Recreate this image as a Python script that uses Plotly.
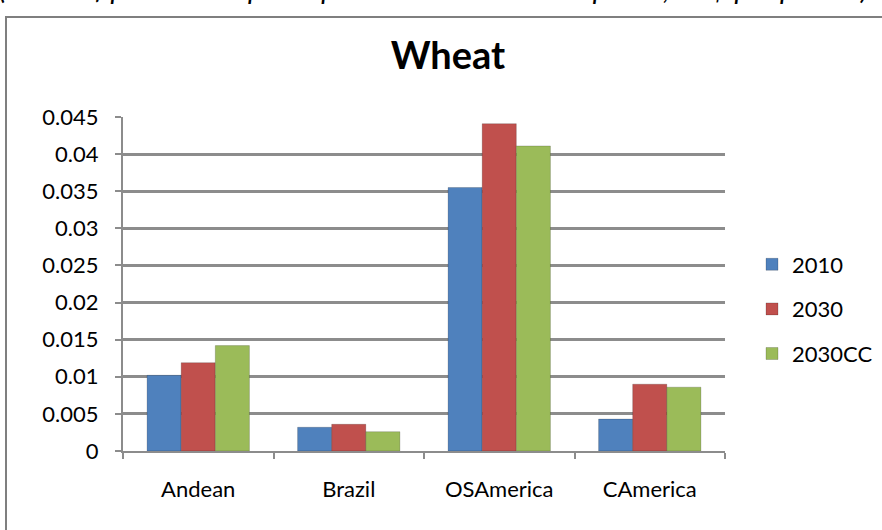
import plotly.graph_objects as go

# Wheat: value of production per capita by region
regions = ["Andean", "Brazil", "OSAmerica", "CAmerica"]
series_names = ["2010", "2030", "2030CC"]
values_2010 = [0.0102, 0.0032, 0.0355, 0.0043]
values_2030 = [0.0119, 0.0036, 0.0441, 0.0090]
values_2030cc = [0.0142, 0.0026, 0.0411, 0.0086]
y_ticks = [0, 0.005, 0.01, 0.015, 0.02, 0.025, 0.03, 0.035, 0.04, 0.045]
y_tick_labels = ["0", "0.005", "0.01", "0.015", "0.02", "0.025", "0.03", "0.035", "0.04", "0.045"]

colors = ["#4F81BD", "#C0504D", "#9BBB59"]
FONT = "Lato, 'Open Sans', sans-serif"

# plot area in pixels
L, R, T, B = 123, 725, 117, 451
W, H = R - L, B - T

fig = go.Figure()
for name, vals, col in zip(series_names, [values_2010, values_2030, values_2030cc], colors):
    fig.add_trace(go.Bar(
        x=regions, y=vals, name=name, legendgroup=name,
        marker=dict(color=col, line=dict(color="rgba(0,0,0,0.18)", width=1)),
    ))

fig.update_layout(
    width=882, height=530,
    margin=dict(l=L, r=882 - R, t=T, b=530 - B),
    paper_bgcolor="white", plot_bgcolor="white",
    barmode="group", bargap=0.32, bargroupgap=0,
    font=dict(family=FONT, size=22, color="black"),
    title=dict(text="<b>Wheat</b>", x=448 / 882, xref="container", xanchor="center",
               y=1 - 56 / 530, yref="container", yanchor="middle",
               font=dict(family=FONT, size=38, color="black")),
    legend=dict(x=752 / 882, xref="container", xanchor="left",
                y=1 - 309 / 530, yref="container", yanchor="middle",
                font=dict(family=FONT, size=22), itemwidth=30,
                traceorder="grouped", tracegroupgap=13,
                bgcolor="rgba(0,0,0,0)"),
    showlegend=True,
)

fig.update_xaxes(
    showline=True, linecolor="#8c8c8c", linewidth=2,
    ticks="outside", tickson="boundaries", ticklen=6, tickcolor="#8c8c8c", tickwidth=2,
    showgrid=False, tickfont=dict(family=FONT, size=22), ticklabelstandoff=18,
)
fig.update_yaxes(
    range=[0, 0.045], tickvals=y_ticks, ticktext=y_tick_labels,
    showline=True, linecolor="#8c8c8c", linewidth=2,
    ticks="outside", ticklen=6, tickcolor="#8c8c8c", tickwidth=2,
    showgrid=True, gridcolor="#8c8c8c", gridwidth=3,
    zeroline=False, tickfont=dict(family=FONT, size=22), ticklabelstandoff=12,
)

# Outer chart frame
fig.add_shape(type="rect", xref="paper", yref="paper",
              x0=(6 - L) / W, x1=(900 - L) / W, y0=(B - 560) / H, y1=(B - 17) / H,
              line=dict(color="#7f7f7f", width=2), fillcolor="rgba(0,0,0,0)", layer="below")

# Subtitle line running off the top of the page
fig.add_annotation(text="<i>(Value of production per capita at constant 2000 prices, US$ per person)</i>",
                   xref="paper", yref="paper", x=(-2 - L) / W, y=(B - 6) / H,
                   xanchor="left", yanchor="bottom", showarrow=False, borderpad=0,
                   font=dict(family=FONT, size=29, color="black"))

fig.write_html("out.html")
